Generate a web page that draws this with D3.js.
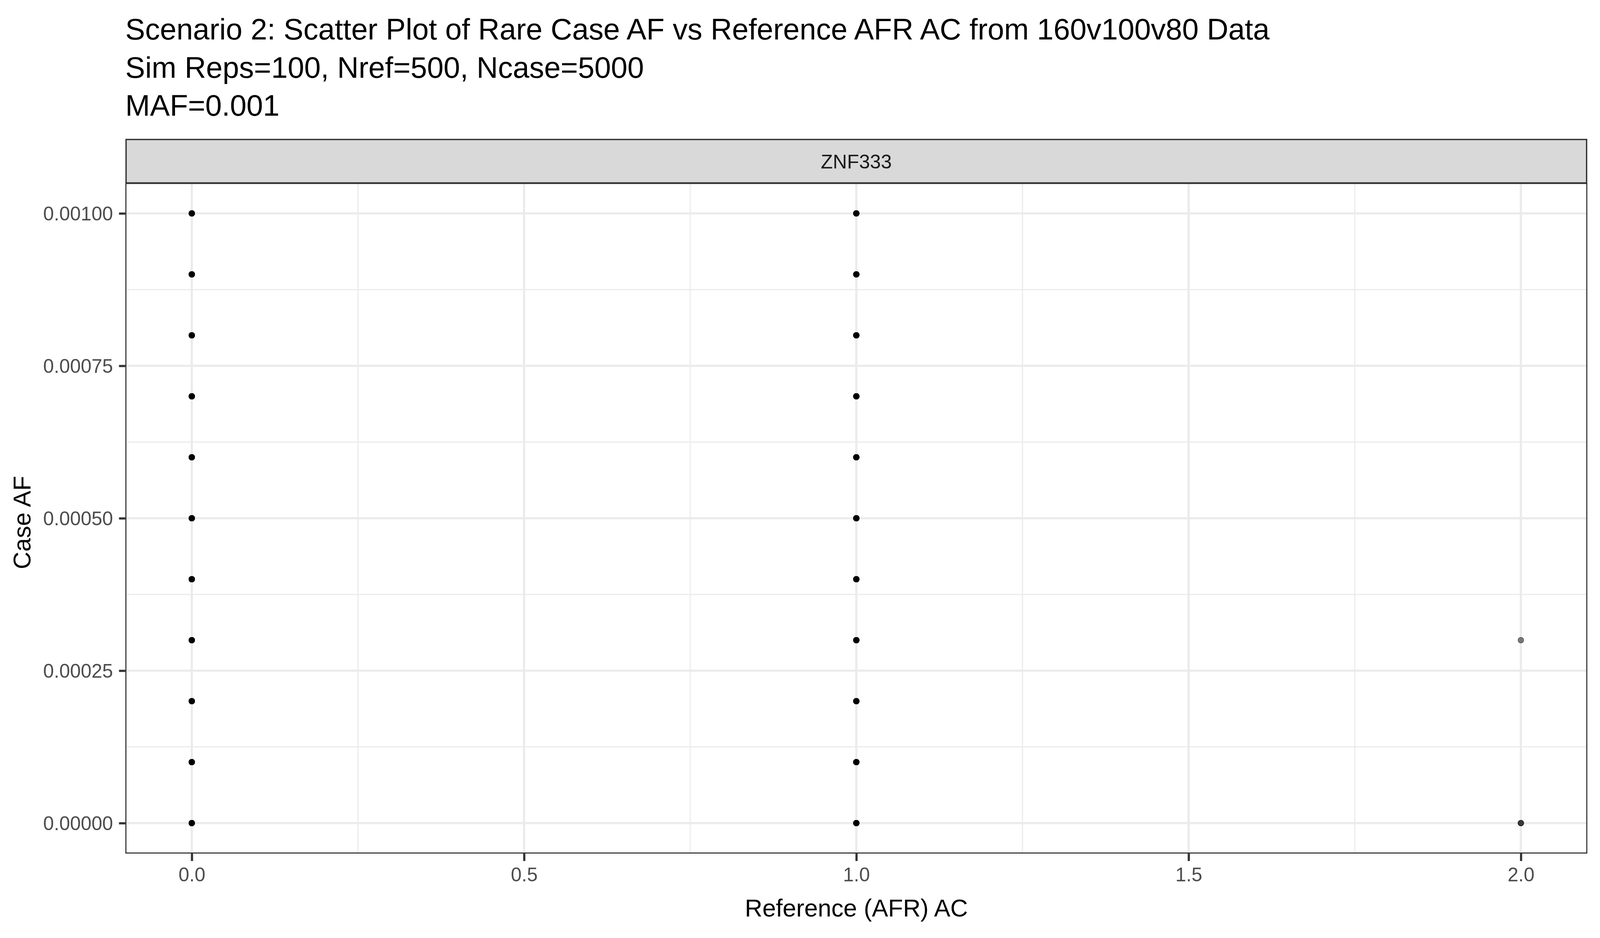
<!DOCTYPE html>
<html>
<head>
<meta charset="utf-8">
<script src="https://cdn.jsdelivr.net/npm/d3@7"></script>
<style>
  html, body { margin: 0; padding: 0; background: #fff; overflow: hidden; }
  svg { display: block; }
  text { font-family: "Liberation Sans", Arial, sans-serif; }
</style>
</head>
<body>
<svg id="chart"></svg>
<script>
// data: one entry per plotted location, with how many reps sit on it
var refAC  = [0, 0, 0, 0, 0, 0, 0, 0, 0, 0, 0,
              1, 1, 1, 1, 1, 1, 1, 1, 1, 1, 1,
              2, 2];
var caseAF = [0, 0.0001, 0.0002, 0.0003, 0.0004, 0.0005, 0.0006, 0.0007, 0.0008, 0.0009, 0.001,
              0, 0.0001, 0.0002, 0.0003, 0.0004, 0.0005, 0.0006, 0.0007, 0.0008, 0.0009, 0.001,
              0, 0.0003];
var nReps  = [8, 8, 8, 8, 8, 8, 8, 8, 8, 8, 8,
              8, 8, 8, 8, 8, 8, 8, 8, 8, 8, 8,
              2, 1];
var xTicks = [0, 0.5, 1, 1.5, 2];
var xMinor = [0.25, 0.75, 1.25, 1.75];
var yTicks = [0, 0.00025, 0.0005, 0.00075, 0.001];
var yMinor = [0.000125, 0.000375, 0.000625, 0.000875];
var titleLines = ["Scenario 2: Scatter Plot of Rare Case AF vs Reference AFR AC from 160v100v80 Data",
                  "Sim Reps=100, Nref=500, Ncase=5000",
                  "MAF=0.001"];
var facetLabel = "ZNF333";
var xLabel = "Reference (AFR) AC";
var yLabel = "Case AF";

// layout is worked out for a 4800x2400 page and stretched to whatever the window really is
var W = document.documentElement.clientWidth || 4800;
var H = document.documentElement.clientHeight || 2400;
var kx = W / 4800, ky = H / 2400;
var kf = kx;                       // fonts follow width so long lines never overflow
function sx(v) { return v * kx; }
function sy(v) { return v * ky; }

var svg = d3.select('#chart').attr('width', W).attr('height', H);
var panel = { left: sx(376), right: sx(4762), top: sy(468), bottom: sy(2184) };
var strip = { top: sy(355), bottom: sy(468) };
var lw = 6.6 * Math.min(kx, ky);
var font = '"Liberation Sans", Arial, sans-serif';

function expand(ext) {
    var pad = (ext[1] - ext[0]) * 0.05;
    return [ext[0] - pad, ext[1] + pad];
}
var x = d3.scaleLinear().domain(expand(d3.extent(refAC))).range([panel.left, panel.right]);
var y = d3.scaleLinear().domain(expand(d3.extent(caseAF))).range([panel.bottom, panel.top]);

svg.append('rect').attr('width', W).attr('height', H).attr('fill', '#fff');

// title
svg.append('g').selectAll('text').data(titleLines).enter().append('text')
    .attr('x', panel.left)
    .attr('y', function (d, i) { return sy(101 + i * 97.7); })
    .attr('font-size', 89 * kf)
    .attr('fill', '#000')
    .text(function (d) { return d; });

// grid
var grid = svg.append('g');
grid.selectAll('.xmin').data(xMinor).enter().append('line')
    .attr('x1', x).attr('x2', x).attr('y1', panel.top).attr('y2', panel.bottom)
    .attr('stroke', '#EBEBEB').attr('stroke-width', lw / 2);
grid.selectAll('.ymin').data(yMinor).enter().append('line')
    .attr('y1', y).attr('y2', y).attr('x1', panel.left).attr('x2', panel.right)
    .attr('stroke', '#EBEBEB').attr('stroke-width', lw / 2);
grid.selectAll('.xmaj').data(xTicks).enter().append('line')
    .attr('x1', x).attr('x2', x).attr('y1', panel.top).attr('y2', panel.bottom)
    .attr('stroke', '#EBEBEB').attr('stroke-width', lw);
grid.selectAll('.ymaj').data(yTicks).enter().append('line')
    .attr('y1', y).attr('y2', y).attr('x1', panel.left).attr('x2', panel.right)
    .attr('stroke', '#EBEBEB').attr('stroke-width', lw);

// points, alpha 0.5, stacked reps darken
var pts = [];
refAC.forEach(function (r, i) {
    for (var k = 0; k < nReps[i]; k++) pts.push({ x: r, y: caseAF[i] });
});
svg.append('g').selectAll('circle').data(pts).enter().append('circle')
    .attr('cx', function (d) { return x(d.x); })
    .attr('cy', function (d) { return y(d.y); })
    .attr('r', 8.5 * Math.min(kx, ky))
    .attr('fill', '#000').attr('fill-opacity', 0.5)
    .attr('stroke', '#000').attr('stroke-opacity', 0.5).attr('stroke-width', 2 * Math.min(kx, ky));

// panel border (clipped in ggplot, so only inner half shows)
svg.append('rect')
    .attr('x', panel.left + lw / 4).attr('y', panel.top + lw / 4)
    .attr('width', panel.right - panel.left - lw / 2)
    .attr('height', panel.bottom - panel.top - lw / 2)
    .attr('fill', 'none').attr('stroke', '#333333').attr('stroke-width', lw / 2);

// strip
svg.append('rect')
    .attr('x', panel.left + lw / 3).attr('y', strip.top + lw / 3)
    .attr('width', panel.right - panel.left - lw * 2 / 3)
    .attr('height', strip.bottom - strip.top - lw / 3)
    .attr('fill', '#D9D9D9').attr('stroke', '#333333').attr('stroke-width', lw * 0.6);
svg.append('text')
    .attr('x', (panel.left + panel.right) / 2).attr('y', sy(431))
    .attr('text-anchor', 'middle').attr('font-size', 59 * kf).attr('fill', '#1A1A1A')
    .text(facetLabel);

// axes
var xAxis = svg.append('g').attr('transform', 'translate(0,' + panel.bottom + ')')
    .call(d3.axisBottom(x).tickValues(xTicks).tickFormat(d3.format('.1f'))
        .tickSize(sy(19)).tickPadding(sy(17)));
var yAxis = svg.append('g').attr('transform', 'translate(' + panel.left + ',0)')
    .call(d3.axisLeft(y).tickValues(yTicks).tickFormat(d3.format('.5f'))
        .tickSize(sx(19)).tickPadding(sx(18)));
[xAxis, yAxis].forEach(function (g) {
    g.select('.domain').remove();
    g.selectAll('.tick line').attr('stroke', '#333333').attr('stroke-width', lw);
    g.selectAll('.tick text').attr('fill', '#4D4D4D').attr('font-size', 58 * kf)
        .attr('font-family', font);
});
yAxis.selectAll('.tick text').attr('dy', '0.36em');

// axis titles
svg.append('text')
    .attr('x', (panel.left + panel.right) / 2).attr('y', sy(2345))
    .attr('text-anchor', 'middle').attr('font-size', 73 * kf).attr('fill', '#000')
    .text(xLabel);
svg.append('text')
    .attr('transform', 'translate(' + sx(91) + ',' + sy(1337) + ') rotate(-90)')
    .attr('text-anchor', 'middle').attr('font-size', 73 * kf).attr('fill', '#000')
    .text(yLabel);
</script>
</body>
</html>
